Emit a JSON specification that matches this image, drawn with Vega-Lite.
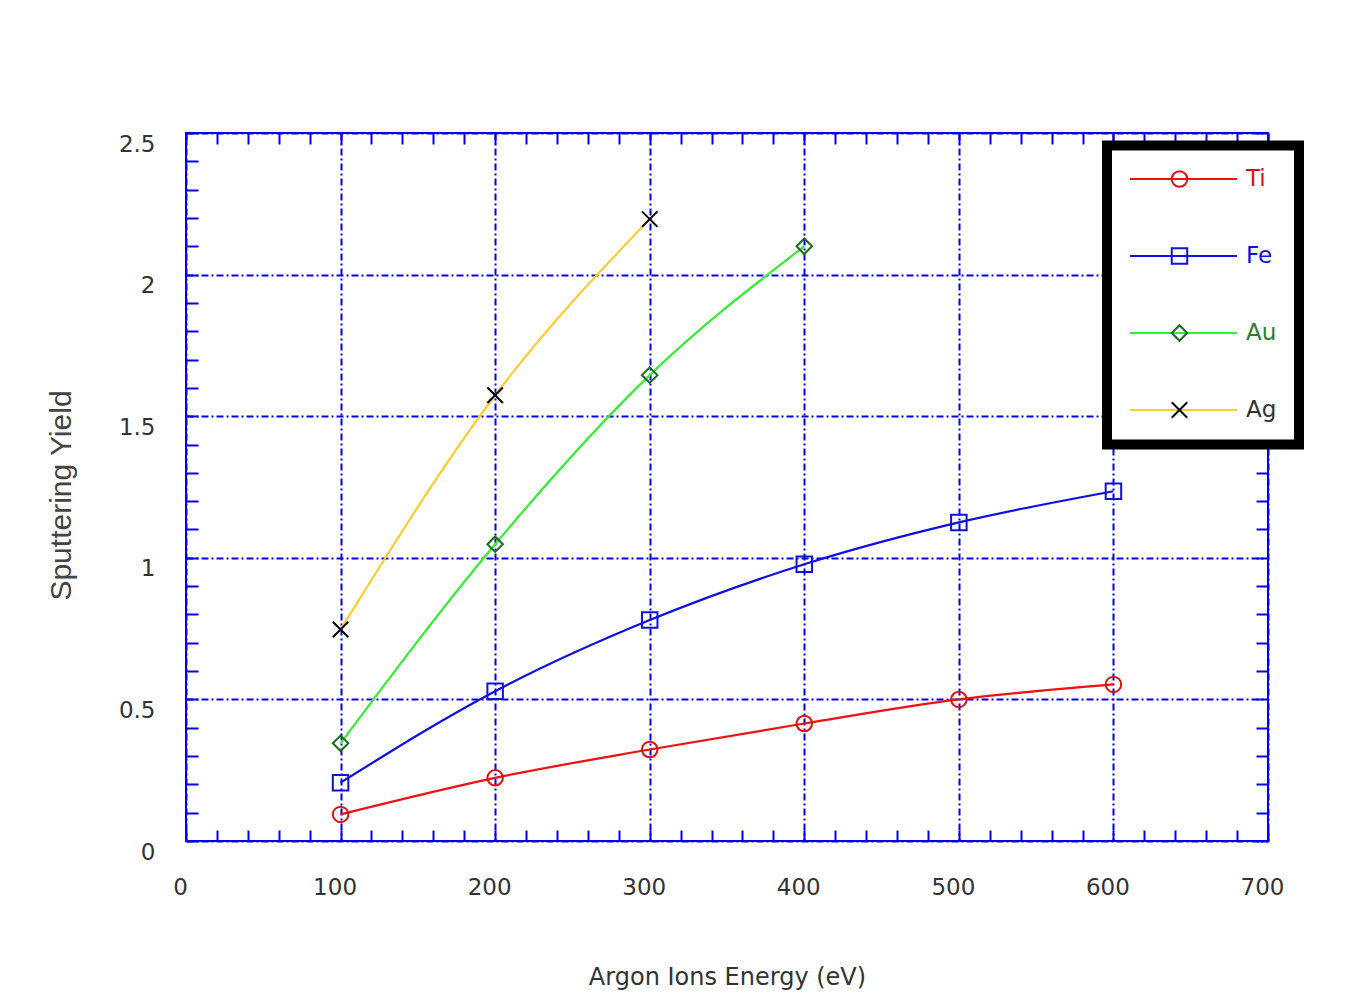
{
  "$schema": "https://vega.github.io/schema/vega-lite/v6.json",
  "width": 1082,
  "height": 708,
  "autosize": {"type": "none"},
  "padding": {"left": 186, "top": 133, "right": 79, "bottom": 167},
  "background": "#ffffff",
  "config": {
    "view": {"stroke": "#0000ee", "strokeWidth": 2},
    "font": "DejaVu Sans"
  },
  "data": {
    "values": [
      {"metal": "Ti", "energy": 100, "yield": 0.094},
      {"metal": "Ti", "energy": 200, "yield": 0.223},
      {"metal": "Ti", "energy": 300, "yield": 0.323},
      {"metal": "Ti", "energy": 400, "yield": 0.415},
      {"metal": "Ti", "energy": 500, "yield": 0.5},
      {"metal": "Ti", "energy": 600, "yield": 0.553},
      {"metal": "Fe", "energy": 100, "yield": 0.206},
      {"metal": "Fe", "energy": 200, "yield": 0.529},
      {"metal": "Fe", "energy": 300, "yield": 0.78},
      {"metal": "Fe", "energy": 400, "yield": 0.977},
      {"metal": "Fe", "energy": 500, "yield": 1.125},
      {"metal": "Fe", "energy": 600, "yield": 1.235},
      {"metal": "Au", "energy": 100, "yield": 0.345},
      {"metal": "Au", "energy": 200, "yield": 1.048},
      {"metal": "Au", "energy": 300, "yield": 1.645},
      {"metal": "Au", "energy": 400, "yield": 2.1},
      {"metal": "Ag", "energy": 100, "yield": 0.747},
      {"metal": "Ag", "energy": 200, "yield": 1.574},
      {"metal": "Ag", "energy": 300, "yield": 2.196}
    ]
  },
  "resolve": {"axis": {"x": "independent", "y": "independent"}},
  "layer": [
    {
      "mark": {"type": "line", "interpolate": "monotone", "strokeWidth": 2.2},
      "encoding": {
        "x": {
          "field": "energy", "type": "quantitative",
          "scale": {"domain": [0, 700], "nice": false, "zero": false},
          "axis": {
            "orient": "bottom",
            "values": [0,20,40,60,80,100,120,140,160,180,200,220,240,260,280,300,320,340,360,380,400,420,440,460,480,500,520,540,560,580,600,620,640,660,680,700],
            "title": "Argon Ions Energy (eV)",
            "domain": false,
            "ticks": true, "tickSize": -11, "tickColor": "#0000ee", "tickWidth": 2,
            "grid": true, "gridColor": "#0000ee", "gridWidth": 2, "gridDash": [7, 3, 2, 3],
            "gridOpacity": {"condition": {"test": "datum.value % 100 === 0", "value": 1}, "value": 0},
            "labelExpr": "datum.value % 100 === 0 ? datum.label : ''",
            "labelFont": "DejaVu Sans", "labelFontSize": 23, "labelColor": "#333333",
            "labelPadding": 46, "labelOffset": -6, "labelFlush": false, "labelOverlap": false, "labelBound": false,
            "labelBaseline": "top",
            "titleFont": "DejaVu Sans", "titleFontSize": 24, "titleFontWeight": "normal", "titleColor": "#333333",
            "titleX": 541, "titleY": 136, "titleBaseline": "middle", "titleAlign": "center"
          }
        },
        "y": {
          "field": "yield", "type": "quantitative",
          "scale": {"domain": [0, 2.5], "nice": false, "zero": false},
          "axis": {
            "orient": "left",
            "values": [0,0.1,0.2,0.3,0.4,0.5,0.6,0.7,0.8,0.9,1,1.1,1.2,1.3,1.4,1.5,1.6,1.7,1.8,1.9,2,2.1,2.2,2.3,2.4,2.5],
            "title": "Sputtering Yield",
            "domain": false,
            "ticks": true, "tickSize": -12, "tickColor": "#0000ee", "tickWidth": 2,
            "grid": true, "gridColor": "#0000ee", "gridWidth": 2, "gridDash": [7, 3, 2, 3],
            "gridOpacity": {"condition": {"test": "abs(datum.value * 2 - round(datum.value * 2)) < 0.001", "value": 1}, "value": 0},
            "labelExpr": "abs(datum.value * 2 - round(datum.value * 2)) < 0.001 ? format(datum.value, '~g') : ''",
            "labelFont": "DejaVu Sans", "labelFontSize": 23, "labelColor": "#333333",
            "labelPadding": 43, "labelOffset": 11, "labelFlush": false, "labelOverlap": false, "labelBound": false,
            "labelBaseline": "middle", "labelAlign": "right",
            "titleFont": "Liberation Sans", "titleFontSize": 30, "titleFontWeight": "normal", "titleColor": "#444444",
            "titleX": -116, "titleY": 362, "titleBaseline": "alphabetic", "titleAlign": "center", "titleAngle": -90
          }
        },
        "color": {
          "field": "metal", "type": "nominal",
          "scale": {"domain": ["Ti", "Fe", "Au", "Ag"], "range": ["#ee1111", "#1010dd", "#33ee33", "#ffcc33"]},
          "legend": {
            "orient": "none", "legendX": 921, "legendY": 12.5, "title": null,
            "padding": 22,
            "symbolType": "M-1,0H1", "symbolSize": 11449, "symbolStrokeWidth": 2,
            "clipHeight": 23, "rowPadding": 53, "labelOffset": 8,
            "labelFont": "DejaVu Sans", "labelFontSize": 23,
            "encode": {
              "legend": {"update": {"stroke": {"value": "#000000"}, "strokeWidth": {"value": 10}, "fill": {"value": "#ffffff"}}},
              "labels": {"update": {"fill": {"signal": "datum.label === 'Ti' ? '#e01010' : datum.label === 'Fe' ? '#1010dd' : datum.label === 'Au' ? '#2e7d32' : '#333333'"}}}
            }
          }
        }
      }
    },
    {
      "mark": {"type": "point", "filled": false, "strokeWidth": 2, "size": 240, "opacity": 1},
      "encoding": {
        "x": {
          "field": "energy", "type": "quantitative",
          "axis": {
            "orient": "top",
            "values": [0,20,40,60,80,100,120,140,160,180,200,220,240,260,280,300,320,340,360,380,400,420,440,460,480,500,520,540,560,580,600,620,640,660,680,700],
            "title": null, "domain": false, "labels": false, "grid": false,
            "ticks": true, "tickSize": -11, "tickColor": "#0000ee", "tickWidth": 2
          }
        },
        "y": {
          "field": "yield", "type": "quantitative",
          "axis": {
            "orient": "right",
            "values": [0,0.1,0.2,0.3,0.4,0.5,0.6,0.7,0.8,0.9,1,1.1,1.2,1.3,1.4,1.5,1.6,1.7,1.8,1.9,2,2.1,2.2,2.3,2.4,2.5],
            "title": null, "domain": false, "labels": false, "grid": false,
            "ticks": true, "tickSize": -12, "tickColor": "#0000ee", "tickWidth": 2
          }
        },
        "shape": {
          "field": "metal", "type": "nominal", "sort": null,
          "scale": {"range": ["circle", "square", "diamond", "M-1,-1L1,1M1,-1L-1,1"]},
          "legend": {
            "orient": "none", "legendX": 960, "legendY": 12.5, "title": null,
            "padding": 22,
            "symbolSize": 240, "symbolStrokeWidth": 2,
            "clipHeight": 23, "rowPadding": 53, "labelOffset": 8,
            "labelFont": "DejaVu Sans", "labelFontSize": 23, "labelOpacity": 0
          }
        },
        "stroke": {
          "field": "metal", "type": "nominal", "sort": null,
          "scale": {"range": ["#e01010", "#1010dd", "#1b6b1b", "#000000"]},
          "legend": {
            "orient": "none", "legendX": 960, "legendY": 12.5, "title": null,
            "padding": 22,
            "symbolSize": 240, "symbolStrokeWidth": 2,
            "clipHeight": 23, "rowPadding": 53, "labelOffset": 8,
            "labelFont": "DejaVu Sans", "labelFontSize": 23, "labelOpacity": 0
          }
        }
      }
    }
  ]
}
